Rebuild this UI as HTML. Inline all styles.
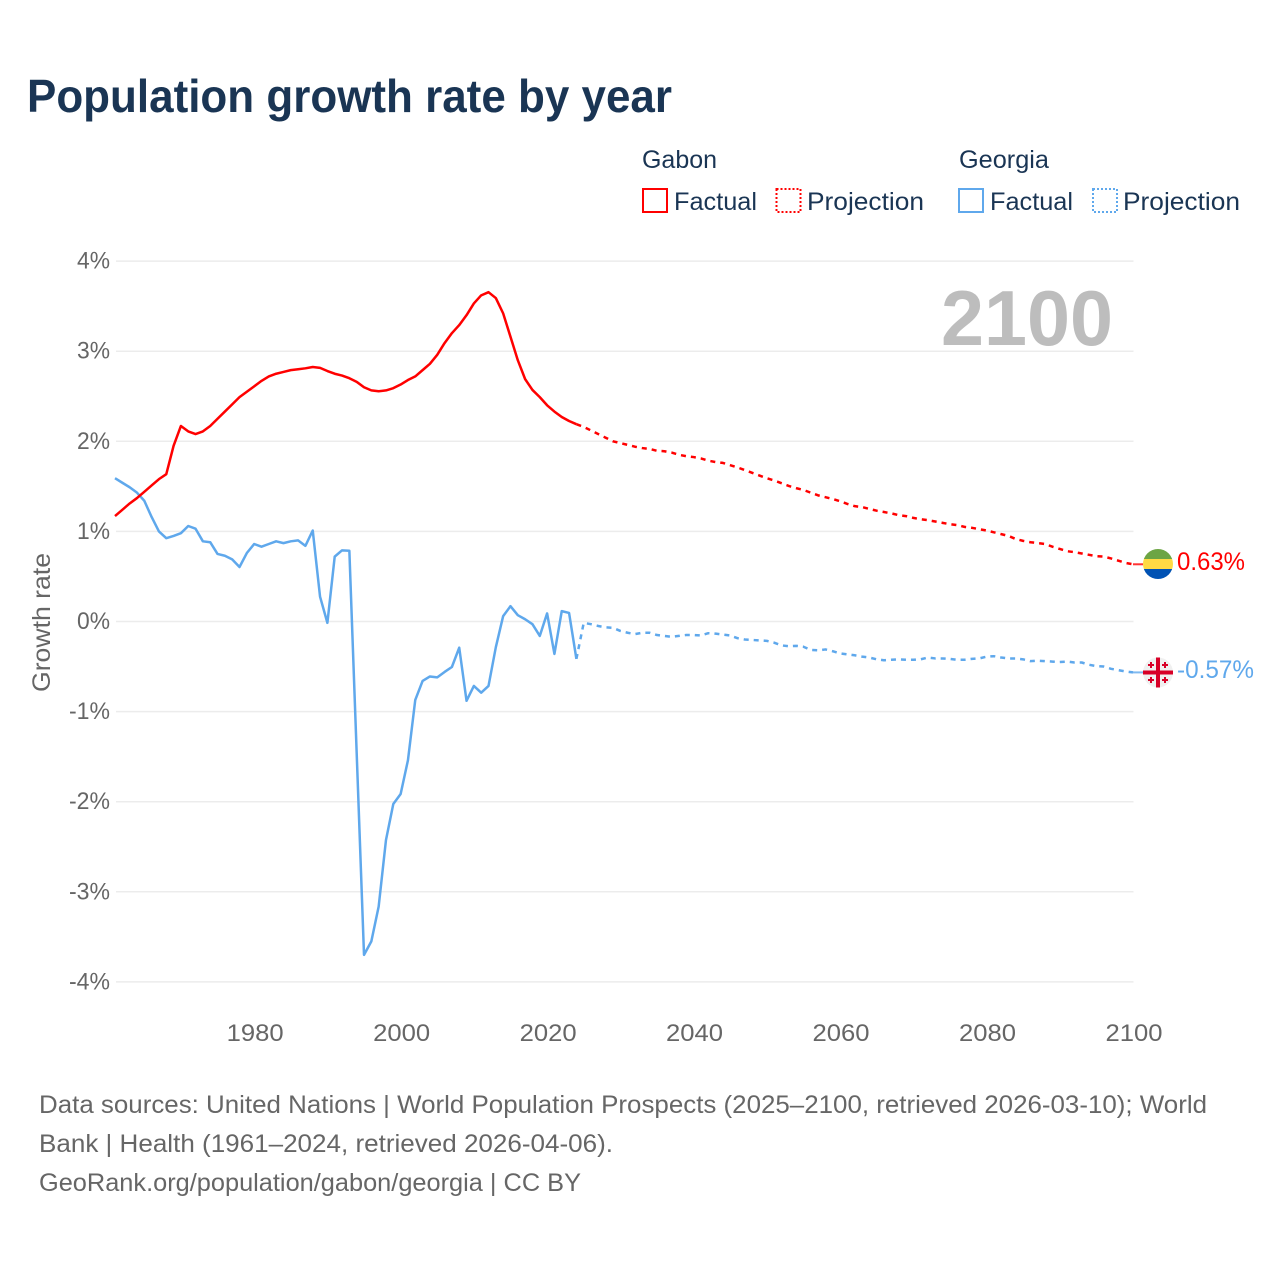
<!DOCTYPE html>
<html lang="en">
<head>
<meta charset="utf-8">
<title>Population growth rate by year</title>
<style>
html,body{margin:0;padding:0;background:#fff;width:1280px;height:1280px;overflow:hidden}
svg{display:block}
text{font-family:"Liberation Sans",sans-serif}
</style>
</head>
<body>
<svg id="chart" xmlns="http://www.w3.org/2000/svg" width="1280" height="1280" viewBox="0 0 1280 1280">
  <rect x="0" y="0" width="1280" height="1280" fill="#ffffff"/>
  <text x="27" y="112" font-size="46" font-weight="700" fill="#1a3554" textLength="645" lengthAdjust="spacingAndGlyphs">Population growth rate by year</text>

  <g font-size="25" fill="#1a3554">
    <text x="642" y="168" textLength="75" lengthAdjust="spacingAndGlyphs">Gabon</text>
    <rect x="643" y="189" width="24" height="23" fill="none" stroke="#ff0000" stroke-width="2"/>
    <text x="674" y="210" textLength="83" lengthAdjust="spacingAndGlyphs">Factual</text>
    <rect x="776.5" y="189" width="24" height="23" fill="none" stroke="#ff0000" stroke-width="2" stroke-dasharray="2 2"/>
    <text x="807" y="210" textLength="117" lengthAdjust="spacingAndGlyphs">Projection</text>
    <text x="959" y="168" textLength="90" lengthAdjust="spacingAndGlyphs">Georgia</text>
    <rect x="959" y="189" width="24" height="23" fill="none" stroke="#5fa8ec" stroke-width="2"/>
    <text x="990" y="210" textLength="83" lengthAdjust="spacingAndGlyphs">Factual</text>
    <rect x="1093" y="189" width="24" height="23" fill="none" stroke="#5fa8ec" stroke-width="2" stroke-dasharray="2 2"/>
    <text x="1123" y="210" textLength="117" lengthAdjust="spacingAndGlyphs">Projection</text>
  </g>

  <g id="grid"></g>
  <g id="yticks"></g>
  <g id="xticks"></g>
  <text transform="translate(50,692) rotate(-90)" font-size="25" fill="#666666" textLength="139" lengthAdjust="spacingAndGlyphs">Growth rate</text>
  <text x="941" y="345" font-size="78" font-weight="700" fill="#bdbdbd" textLength="172" lengthAdjust="spacingAndGlyphs">2100</text>
  <g id="series"></g>

  <g>
    <clipPath id="clip-gabon"><circle cx="1158" cy="564" r="15"/></clipPath>
    <g clip-path="url(#clip-gabon)">
      <rect x="1143" y="549" width="30" height="10" fill="#6da544"/>
      <rect x="1143" y="559" width="30" height="10" fill="#ffda44"/>
      <rect x="1143" y="569" width="30" height="10" fill="#0052b4"/>
    </g>
  </g>
  <text x="1177" y="570" font-size="25" fill="#ff0000" textLength="68" lengthAdjust="spacingAndGlyphs">0.63%</text>

  <g>
    <circle cx="1158" cy="672.5" r="15" fill="#f0f0f0"/>
    <rect x="1143" y="670.5" width="30" height="4" fill="#d80027"/>
    <rect x="1156" y="657.5" width="4" height="30" fill="#d80027"/>
    <path d="M1150 662h2v2h2v2h-2v2h-2v-2h-2v-2h2zM1164 662h2v2h2v2h-2v2h-2v-2h-2v-2h2zM1150 677h2v2h2v2h-2v2h-2v-2h-2v-2h2zM1164 677h2v2h2v2h-2v2h-2v-2h-2v-2h2z" fill="#d80027"/>
  </g>
  <text x="1177" y="678" font-size="25" fill="#5fa8ec" textLength="77" lengthAdjust="spacingAndGlyphs">-0.57%</text>

  <g font-size="25" fill="#666666">
    <text x="39" y="1113" textLength="1168" lengthAdjust="spacingAndGlyphs">Data sources: United Nations | World Population Prospects (2025–2100, retrieved 2026-03-10); World</text>
    <text x="39" y="1152" textLength="574" lengthAdjust="spacingAndGlyphs">Bank | Health (1961–2024, retrieved 2026-04-06).</text>
    <text x="39" y="1191" textLength="542" lengthAdjust="spacingAndGlyphs">GeoRank.org/population/gabon/georgia | CC BY</text>
  </g>
</svg>
<script>
const xTickYears = [1980, 2000, 2020, 2040, 2060, 2080, 2100];
const yTickValues = [4, 3, 2, 1, 0, -1, -2, -3, -4];
const factualStartYear = 1961;
const projectionStartYear = 2024;
const gabonFactual = [1.17,1.24,1.31,1.37,1.44,1.51,1.58,1.635,1.95,2.17,2.11,2.08,2.11,2.17,2.25,2.33,2.41,2.49,2.55,2.61,2.67,2.72,2.75,2.77,2.79,2.80,2.81,2.825,2.815,2.78,2.75,2.73,2.70,2.66,2.60,2.565,2.555,2.565,2.59,2.63,2.68,2.72,2.79,2.86,2.96,3.09,3.2,3.29,3.40,3.53,3.62,3.655,3.59,3.42,3.16,2.90,2.69,2.57,2.49,2.40,2.33,2.27,2.225,2.19];
const gabonProjection = [2.19,2.16,2.12,2.08,2.04,2.00,1.98,1.96,1.94,1.925,1.915,1.895,1.89,1.875,1.85,1.835,1.825,1.81,1.785,1.77,1.76,1.735,1.71,1.68,1.65,1.62,1.59,1.565,1.535,1.505,1.48,1.46,1.43,1.40,1.38,1.36,1.335,1.305,1.28,1.27,1.25,1.23,1.215,1.20,1.18,1.17,1.15,1.135,1.125,1.11,1.095,1.08,1.07,1.05,1.04,1.025,1.01,0.99,0.97,0.95,0.915,0.895,0.88,0.87,0.86,0.83,0.805,0.78,0.77,0.755,0.74,0.725,0.72,0.70,0.675,0.65,0.635];
const georgiaFactual = [1.59,1.54,1.49,1.43,1.34,1.16,1.00,0.925,0.95,0.98,1.06,1.03,0.89,0.88,0.75,0.73,0.69,0.605,0.76,0.86,0.83,0.86,0.89,0.87,0.89,0.90,0.84,1.01,0.275,-0.015,0.72,0.79,0.785,-1.46,-3.70,-3.55,-3.165,-2.425,-2.025,-1.915,-1.54,-0.87,-0.66,-0.61,-0.62,-0.56,-0.505,-0.29,-0.88,-0.715,-0.79,-0.715,-0.285,0.06,0.17,0.07,0.025,-0.03,-0.16,0.09,-0.36,0.115,0.095,-0.415];
const georgiaProjection = [-0.415,-0.015,-0.03,-0.05,-0.065,-0.07,-0.105,-0.125,-0.14,-0.125,-0.125,-0.15,-0.16,-0.17,-0.16,-0.15,-0.15,-0.155,-0.13,-0.135,-0.145,-0.155,-0.185,-0.2,-0.205,-0.21,-0.215,-0.235,-0.265,-0.275,-0.27,-0.28,-0.315,-0.32,-0.31,-0.33,-0.355,-0.365,-0.375,-0.39,-0.40,-0.42,-0.43,-0.425,-0.42,-0.425,-0.425,-0.42,-0.40,-0.41,-0.41,-0.415,-0.425,-0.425,-0.415,-0.41,-0.39,-0.385,-0.40,-0.41,-0.41,-0.42,-0.44,-0.435,-0.44,-0.445,-0.45,-0.445,-0.455,-0.455,-0.48,-0.495,-0.50,-0.525,-0.54,-0.555,-0.565];

const SVG_NS = 'http://www.w3.org/2000/svg';
function xScale(year) { return 115 + (year - 1961) * (1133 - 115) / (2100 - 1961); }
function yScale(value) { return 621.5 - value * 90.1; }
function toPoints(startYear, values) {
  return values.map(function (v, i) { return xScale(startYear + i).toFixed(2) + ',' + yScale(v).toFixed(2); }).join(' ');
}

const gridGroup = document.getElementById('grid');
const yTickGroup = document.getElementById('yticks');
yTickValues.forEach(function (v) {
  const line = document.createElementNS(SVG_NS, 'line');
  
  
  line.setAttribute('x1', 116);
  line.setAttribute('x2', 1133.5);
  line.setAttribute('y1', yScale(v));
  line.setAttribute('y2', yScale(v));
  line.setAttribute('stroke', '#ececec');
  line.setAttribute('stroke-width', '1.5');
  gridGroup.appendChild(line);
  const label = document.createElementNS(SVG_NS, 'text');
  
  
  label.setAttribute('x', v < 0 ? 69 : 77);
  label.setAttribute('y', yScale(v) + 7.5);
  label.setAttribute('font-size', '24');
  label.setAttribute('fill', '#666666');
  label.setAttribute('textLength', v < 0 ? 41 : 33);
  label.setAttribute('lengthAdjust', 'spacingAndGlyphs');
  label.textContent = v + '%';
  yTickGroup.appendChild(label);
});

const xTickGroup = document.getElementById('xticks');
xTickYears.forEach(function (year) {
  const label = document.createElementNS(SVG_NS, 'text');
  
  
  label.setAttribute('x', xScale(year) - 27.5);
  label.setAttribute('y', 1041);
  label.setAttribute('font-size', '24');
  label.setAttribute('fill', '#666666');
  label.setAttribute('textLength', 57);
  label.setAttribute('lengthAdjust', 'spacingAndGlyphs');
  label.textContent = year;
  xTickGroup.appendChild(label);
});

const seriesGroup = document.getElementById('series');
function addLine(name, startYear, values, color, dashed) {
  const line = document.createElementNS(SVG_NS, 'polyline');
  
  
  line.setAttribute('points', toPoints(startYear, values));
  line.setAttribute('fill', 'none');
  line.setAttribute('stroke', color);
  line.setAttribute('stroke-width', '2.5');
  line.setAttribute('stroke-linejoin', 'round');
  if (dashed) line.setAttribute('stroke-dasharray', '5 5');
  seriesGroup.appendChild(line);
}
function addLeader(name, values, color) {
  const last = values[values.length - 1];
  const line = document.createElementNS(SVG_NS, 'line');
  
  
  line.setAttribute('x1', xScale(2100));
  line.setAttribute('x2', 1143);
  line.setAttribute('y1', yScale(last));
  line.setAttribute('y2', yScale(last));
  line.setAttribute('stroke', color);
  line.setAttribute('stroke-width', '2');
  line.setAttribute('stroke-opacity', '0.8');
  seriesGroup.appendChild(line);
}
addLine('georgia-factual-line', factualStartYear, georgiaFactual, '#5fa8ec', false);
addLine('georgia-projection-line', projectionStartYear, georgiaProjection, '#5fa8ec', true);
addLine('gabon-factual-line', factualStartYear, gabonFactual, '#ff0000', false);
addLine('gabon-projection-line', projectionStartYear, gabonProjection, '#ff0000', true);
addLeader('georgia-end-leader', georgiaProjection, '#5fa8ec');
addLeader('gabon-end-leader', gabonProjection, '#ff0000');
</script>
</body>
</html>
